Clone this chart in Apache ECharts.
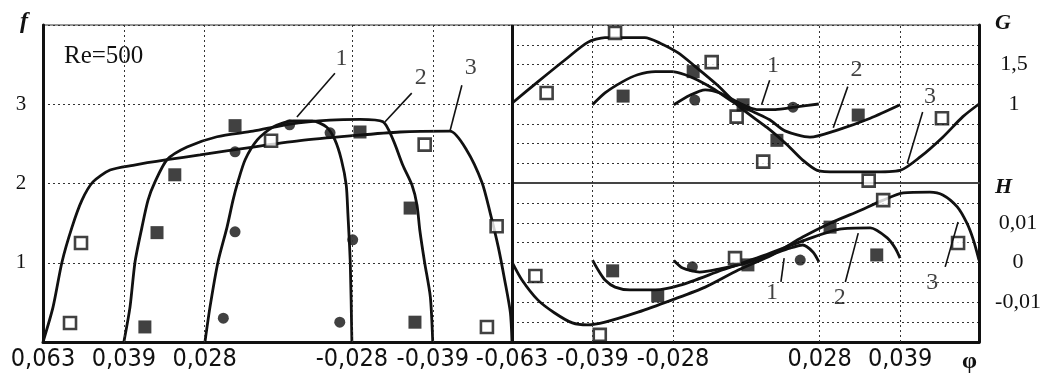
<!DOCTYPE html>
<html>
<head>
<meta charset="utf-8">
<script src="https://cdn.jsdelivr.net/npm/echarts@6/dist/echarts.min.js"></script>
<style>
  html, body { margin: 0; padding: 0; background: #fff; }
  #chart { width: 1048px; height: 379px; }
</style>
</head>
<body>
<div id="chart"></div>
<script>
// Stretched φ coordinate shared by the three panels (tick positions and labels)
const xTicks = [0, 1, 2, 3.82, 4.82, 5.8];
const xLabelsLeft = ['0,063', '0,039', '0,028', '-0,028', '-0,039', '-0,063'];
const xLabelsRight = ['', '-0,039', '-0,028', '0,028', '0,039', ''];

// Labelled values on the f, G and H axes
const fTickValues = [1, 2, 3];
const fTickLabels = ['1', '2', '3'];
const gTickValues = [1, 1.5];
const gTickLabels = ['1', '1,5'];
const hTickValues = [-0.01, 0, 0.01];
const hTickLabels = ['-0,01', '0', '0,01'];

// f(φ): computed curves 1, 2, 3
const f1 = [[2.003,0],[2.065,0.44],[2.164,1.01],[2.276,1.45],[2.35,1.79],[2.41,2.02],[2.50,2.30],[2.65,2.55],[2.84,2.71],[3.09,2.79],[3.33,2.79],[3.51,2.71],[3.61,2.55],[3.69,2.30],[3.75,1.98],[3.77,1.63],[3.80,1.00],[3.82,0]];
const f2 = [[1.0,0],[1.076,0.44],[1.138,1.01],[1.224,1.45],[1.299,1.79],[1.385,2.02],[1.534,2.30],[1.781,2.46],[2.152,2.59],[2.597,2.66],[3.055,2.75],[3.549,2.80],[3.92,2.81],[4.205,2.78],[4.33,2.55],[4.45,2.23],[4.563,1.98],[4.625,1.73],[4.66,1.41],[4.72,1.00],[4.79,0.57],[4.82,0]];
const f3 = [[0,0],[0.124,0.44],[0.235,1.01],[0.359,1.45],[0.482,1.79],[0.618,2.02],[0.829,2.17],[1.113,2.23],[1.534,2.30],[1.942,2.36],[2.597,2.46],[3.178,2.54],[3.797,2.60],[4.415,2.65],[5.033,2.66],[5.24,2.42],[5.43,2.01],[5.53,1.63],[5.63,1.20],[5.71,0.78],[5.78,0.37],[5.80,0]];
// f(φ): measured points
const fOpen = [[0.47,1.25],[0.334,0.24],[2.82,2.54],[4.72,2.49],[5.61,1.46],[5.49,0.19]];
const fSquare = [[2.375,2.73],[1.63,2.11],[1.41,1.38],[1.26,0.19],[3.92,2.65],[4.54,1.69],[4.60,0.25]];
const fDot = [[2.375,2.40],[2.375,1.39],[2.23,0.30],[3.55,2.64],[3.05,2.74],[3.83,1.29],[3.67,0.25]];

// G(φ): computed curves
const g1 = [[2.01,0.99],[2.21,1.11],[2.40,1.18],[2.58,1.14],[2.83,1.01],[3.04,0.93],[3.27,0.93],[3.51,0.96],[3.81,1.00]];
const g2 = [[1.0,0.99],[1.155,1.14],[1.37,1.28],[1.56,1.37],[1.78,1.41],[1.99,1.41],[2.15,1.37],[2.31,1.30],[2.52,1.18],[2.77,1.01],[3.02,0.89],[3.20,0.80],[3.39,0.66],[3.70,0.58],[4.04,0.67],[4.45,0.82],[4.82,0.99]];
const g3 = [[0,1.01],[0.32,1.28],[0.66,1.56],[0.94,1.78],[1.155,1.84],[1.65,1.84],[1.84,1.77],[2.06,1.65],[2.27,1.48],[2.55,1.24],[2.83,0.96],[3.17,0.70],[3.42,0.48],[3.61,0.29],[3.79,0.16],[4.04,0.14],[4.45,0.14],[4.82,0.16],[5.07,0.33],[5.35,0.58],[5.60,0.84],[5.80,1.00]];
// G(φ): measured points
const gOpen = [[0.43,1.14],[1.28,1.90],[2.48,1.53],[2.79,0.84],[3.12,0.27],[4.43,0.03],[5.34,0.82]];
const gSquare = [[1.38,1.10],[2.25,1.41],[2.87,0.99],[3.29,0.54],[4.30,0.86]];
const gDot = [[2.27,1.05],[3.49,0.96]];

// H(φ): computed curves
const h1 = [[2.01,0.0005],[2.12,-0.0014],[2.33,-0.0024],[2.58,-0.0016],[2.89,-0.0002],[3.20,0.0018],[3.45,0.0036],[3.61,0.0044],[3.74,0.0026],[3.81,0.0002]];
const h2 = [[1.0,0.0006],[1.07,-0.0019],[1.155,-0.0044],[1.28,-0.0062],[1.465,-0.0069],[1.78,-0.0069],[2.09,-0.0057],[2.61,-0.0019],[3.08,0.0014],[3.58,0.0052],[4.07,0.0084],[4.45,0.0087],[4.66,0.0062],[4.76,0.0036],[4.82,0.0011]];
const h3 = [[0,0.0001],[0.124,-0.0044],[0.32,-0.0094],[0.53,-0.0127],[0.75,-0.0152],[0.94,-0.0157],[1.155,-0.0150],[1.565,-0.0125],[1.99,-0.0094],[2.40,-0.0062],[2.81,-0.0019],[3.23,0.0019],[3.61,0.0064],[3.95,0.0099],[4.28,0.0127],[4.61,0.0157],[4.86,0.0175],[5.19,0.0177],[5.35,0.0170],[5.53,0.0140],[5.65,0.0099],[5.73,0.0057],[5.80,0.0006]];
// H(φ): measured points
const hOpen = [[0.29,-0.0034],[1.09,-0.0182],[2.77,0.0011],[4.61,0.0157],[5.54,0.0049]];
const hSquare = [[1.25,-0.0021],[1.81,-0.0084],[2.93,-0.0006],[3.95,0.0089],[4.53,0.0019]];
const hDot = [[2.24,-0.0011],[3.58,0.0006]];

// Curve numbers and their leader lines: [x, y, text], [[x1, y1], [x2, y2]]
const fNotes = [[3.69,3.58,'1'],[4.67,3.33,'2'],[5.29,3.46,'3']];
const fLeaders = [[[3.61,3.39],[3.14,2.84]],[[4.56,3.14],[4.23,2.78]],[[5.18,3.24],[5.03,2.65]]];
const gNotes = [[3.24,1.49,'1'],[4.28,1.43,'2'],[5.19,1.09,'3']];
const gLeaders = [[[3.20,1.30],[3.10,0.99]],[[4.17,1.22],[3.99,0.70]],[[5.10,0.90],[4.91,0.25]]];
const hNotes = [[3.23,-0.0077,'1'],[4.07,-0.0089,'2'],[5.22,-0.0052,'3']];
const hLeaders = [[[3.34,-0.0049],[3.38,0.0011]],[[4.14,-0.0049],[4.30,0.0074]],[[5.38,-0.0011],[5.54,0.0102]]];

const SERIF = "'Liberation Serif', 'Times New Roman', serif";
const NARROW = "'Liberation Sans Narrow', 'DejaVu Sans Condensed', 'Liberation Serif', serif";
const INK = '#111';

function nearestLabel(values, labels, v) {
  let best = -1, bd = Infinity;
  values.forEach((t, i) => { const d = Math.abs(t - v); if (d < bd) { bd = d; best = i; } });
  return bd < 1e-6 ? labels[best] : '';
}

const gridLineStyle = { type: [2, 3], color: '#333', width: 1 };

function vLines(values) {
  return {
    silent: true, symbol: ['none', 'none'], animation: false,
    label: { show: false }, lineStyle: gridLineStyle,
    data: values.map(v => ({ xAxis: v }))
  };
}
function separator() {
  return {
    silent: true, symbol: ['none', 'none'], animation: false,
    label: { show: false }, lineStyle: { type: 'solid', color: INK, width: 3 },
    data: [{ xAxis: 0 }]
  };
}

function curve(data, idx, extra) {
  return Object.assign({
    type: 'line', data, xAxisIndex: idx, yAxisIndex: idx,
    symbol: 'none', smooth: 0.25, z: 3,
    lineStyle: { color: INK, width: 2.8 }
  }, extra || {});
}
function points(data, idx, kind) {
  const style = kind === 'open'
    ? { symbol: 'rect', symbolSize: 12, itemStyle: { color: '#fff', borderColor: INK, borderWidth: 2.6 } }
    : kind === 'square'
      ? { symbol: 'rect', symbolSize: 13, itemStyle: { color: INK } }
      : { symbol: 'circle', symbolSize: 11, itemStyle: { color: INK } };
  return Object.assign({ type: 'scatter', data, xAxisIndex: idx, yAxisIndex: idx, z: 4 }, style);
}
function notes(data, idx) {
  return {
    type: 'scatter', data, xAxisIndex: idx, yAxisIndex: idx, symbolSize: 0, z: 5,
    label: { show: true, position: 'inside', formatter: p => p.value[2],
      fontFamily: SERIF, fontSize: 24, color: INK }
  };
}
function leaders(list, idx) {
  return list.map(seg => ({
    type: 'line', data: seg, xAxisIndex: idx, yAxisIndex: idx, symbol: 'none', z: 5,
    lineStyle: { color: INK, width: 1.6 }
  }));
}

const xBase = {
  type: 'value', min: 0, max: 5.8,
  splitLine: { show: false }, axisTick: { show: false }
};

const option = {
  animation: false,
  backgroundColor: '#fff',
  grid: [
    { left: 43, top: 25, width: 469, height: 317, show: true, borderColor: '#777', borderWidth: 1.5 },
    { left: 512, top: 25, width: 467, height: 158, show: true, borderColor: '#777', borderWidth: 1.5 },
    { left: 512, top: 183, width: 467, height: 159 }
  ],
  xAxis: [
    Object.assign({}, xBase, {
      gridIndex: 0,
      axisLine: { onZero: false, lineStyle: { color: INK, width: 3 } },
      axisLabel: {
        customValues: xTicks, margin: 5, color: INK, fontFamily: NARROW, fontSize: 25,
        formatter: v => nearestLabel(xTicks, xLabelsLeft, v)
      }
    }),
    Object.assign({}, xBase, {
      gridIndex: 1,
      axisLine: { onZero: false, lineStyle: { color: '#444', width: 2 } },
      axisLabel: { show: false }
    }),
    Object.assign({}, xBase, {
      gridIndex: 2,
      axisLine: { onZero: false, lineStyle: { color: INK, width: 3 } },
      axisLabel: {
        customValues: xTicks.slice(1, 5), margin: 5, color: INK, fontFamily: NARROW, fontSize: 25,
        formatter: v => nearestLabel(xTicks, xLabelsRight, v)
      }
    })
  ],
  yAxis: [
    {
      type: 'value', gridIndex: 0, min: 0, max: 4, interval: 1,
      axisLine: { show: true, onZero: false, lineStyle: { color: INK, width: 3 } },
      axisTick: { show: false },
      splitLine: { show: true, lineStyle: gridLineStyle },
      axisLabel: { margin: 22, align: 'center', color: INK, fontFamily: SERIF, fontSize: 21,
        formatter: v => nearestLabel(fTickValues, fTickLabels, v) }
    },
    {
      type: 'value', gridIndex: 1, position: 'right', min: 0, max: 2, interval: 0.25,
      axisLine: { show: true, onZero: false, lineStyle: { color: INK, width: 3 } },
      axisTick: { show: false },
      splitLine: { show: true, lineStyle: gridLineStyle },
      axisLabel: { margin: 35, align: 'center', color: INK, fontFamily: SERIF, fontSize: 22,
        formatter: v => nearestLabel(gTickValues, gTickLabels, v) }
    },
    {
      type: 'value', gridIndex: 2, position: 'right', min: -0.02, max: 0.02, interval: 0.005,
      axisLine: { show: true, onZero: false, lineStyle: { color: INK, width: 3 } },
      axisTick: { show: false },
      splitLine: { show: true, lineStyle: gridLineStyle },
      axisLabel: { margin: 39, align: 'center', color: INK, fontFamily: SERIF, fontSize: 22,
        formatter: v => nearestLabel(hTickValues, hTickLabels, v) }
    }
  ],
  graphic: [
    { type: 'text', left: 20, top: 10, style: { text: 'f', font: "italic bold 24px 'Liberation Serif'", fill: INK } },
    { type: 'text', left: 64, top: 44, style: { text: 'Re=500', font: "25px 'Liberation Serif'", fill: INK } },
    { type: 'text', left: 995, top: 12, style: { text: 'G', font: "italic bold 22px 'Liberation Serif'", fill: INK } },
    { type: 'text', left: 995, top: 176, style: { text: 'H', font: "italic bold 22px 'Liberation Serif'", fill: INK } },
    { type: 'text', left: 962, top: 350, style: { text: 'φ', font: "bold 24px 'Liberation Serif'", fill: INK } }
  ],
  series: [
    curve(f3, 0, { markLine: vLines(xTicks.slice(1, 5)) }),
    curve(f2, 0),
    curve(f1, 0),
    points(fOpen, 0, 'open'),
    points(fSquare, 0, 'square'),
    points(fDot, 0, 'dot'),
    notes(fNotes, 0),
    ...leaders(fLeaders, 0),

    curve(g3, 1, { markLine: vLines(xTicks.slice(1, 5)) }),
    curve(g2, 1, { markLine: separator() }),
    curve(g1, 1),
    points(gOpen, 1, 'open'),
    points(gSquare, 1, 'square'),
    points(gDot, 1, 'dot'),
    notes(gNotes, 1),
    ...leaders(gLeaders, 1),

    curve(h3, 2, { markLine: vLines(xTicks.slice(1, 5)) }),
    curve(h2, 2, { markLine: separator() }),
    curve(h1, 2),
    points(hOpen, 2, 'open'),
    points(hSquare, 2, 'square'),
    points(hDot, 2, 'dot'),
    notes(hNotes, 2),
    ...leaders(hLeaders, 2)
  ]
};

const chart = echarts.init(document.getElementById('chart'), null, { renderer: 'canvas' });
chart.setOption(option);
</script>
</body>
</html>
